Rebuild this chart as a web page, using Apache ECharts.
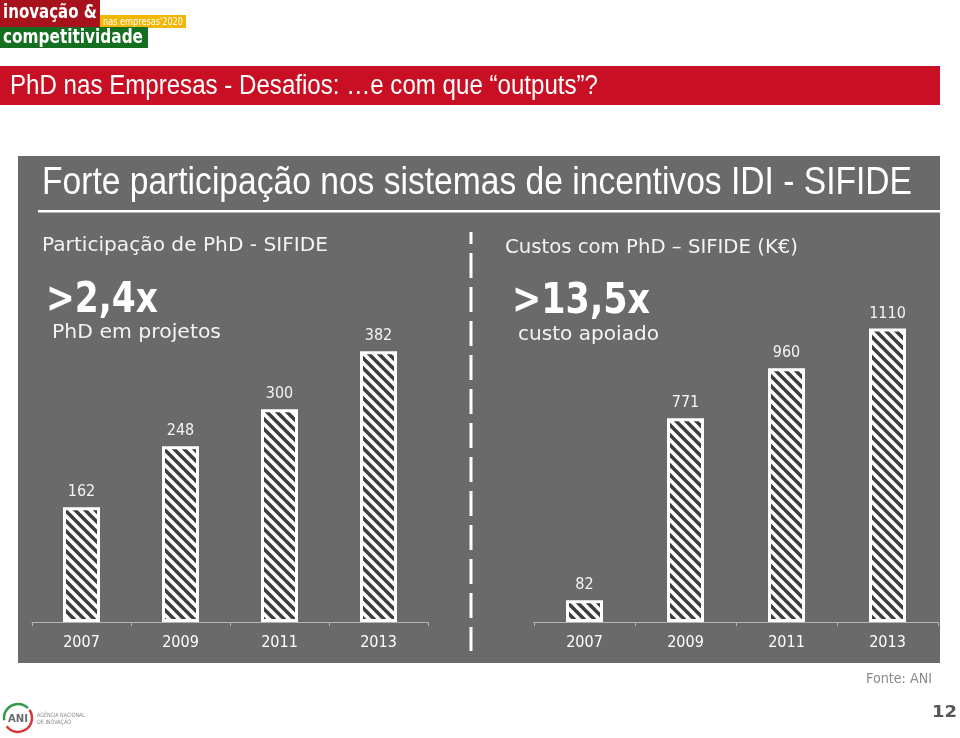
<!DOCTYPE html>
<html><head><meta charset="utf-8">
<script src="https://cdn.jsdelivr.net/npm/echarts@6/dist/echarts.min.js"></script>
<style>html,body{margin:0;padding:0;background:#fff}#c{width:960px;height:738px}</style>
</head><body><div id="c"></div>
<script>
// ---- data ----
const years = ['2007', '2009', '2011', '2013'];
const phdParticipation = [162, 248, 300, 382];
const phdCostsK = [82, 771, 960, 1110];

// ---- font helpers ----
const mctx = document.createElement('canvas').getContext('2d');
function hasFont(f) {
  const s = 'abcdefghijklmnopqrstuvwxyz0123456789';
  for (const base of ['monospace', 'serif']) {
    mctx.font = '40px ' + base; const w0 = mctx.measureText(s).width;
    mctx.font = "40px '" + f + "'," + base; const w1 = mctx.measureText(s).width;
    if (w0 !== w1) return true;
  }
  return false;
}
function pickFont(list) { for (const f of list) if (hasFont(f)) return f; return 'sans-serif'; }
const narrowFont = pickFont(['Liberation Sans Narrow', 'DejaVu Sans Condensed', 'Liberation Sans']);
const narrowAvail = narrowFont === 'Liberation Sans Narrow';
const condAvail = narrowFont === 'DejaVu Sans Condensed';
const numSize = narrowAvail ? 18 : (condAvail ? 16 : 16);

function measure(text, size, family, weight) {
  mctx.font = (weight || 'normal') + ' ' + size + "px '" + family + "'";
  return mctx.measureText(text).width;
}
function fitText(text, x, y, width, size, family, opts) {
  opts = opts || {};
  const w = measure(text, size, family, opts.weight);
  return {
    type: 'text', x: x, y: y, scaleX: width / w, scaleY: 1, z: 10,
    style: {
      text: text, fill: opts.color || '#fff', fontSize: size, fontFamily: family,
      fontWeight: opts.weight || 'normal', align: 'left', verticalAlign: 'middle'
    }
  };
}

// ---- stripe pattern ----
function makePattern() {
  const P = 10;
  const c = document.createElement('canvas'); c.width = P; c.height = P;
  const g = c.getContext('2d');
  g.fillStyle = '#3d3d3d'; g.fillRect(0, 0, P, P);
  g.strokeStyle = '#ffffff'; g.lineWidth = 3.6; g.lineCap = 'square';
  for (const o of [-2 * P, -P, 0, P, 2 * P]) {
    g.beginPath(); g.moveTo(o - P, -P); g.lineTo(o + 2 * P, 2 * P); g.stroke();
  }
  return c;
}
const pattern = { image: makePattern(), repeat: 'repeat' };

const chart = echarts.init(document.getElementById('c'), null, { renderer: 'canvas' });

function xAxisCfg(gi) {
  return {
    type: 'category', gridIndex: gi, data: years,
    axisLine: { lineStyle: { color: '#b4b4b4', width: 1 } },
    axisTick: { show: true, length: 4, lineStyle: { color: '#b4b4b4' } },
    axisLabel: { color: '#ffffff', fontSize: numSize, fontFamily: narrowFont, margin: 13 }
  };
}
function barSeries(gi, data) {
  return {
    type: 'bar', xAxisIndex: gi, yAxisIndex: gi, data: data, barWidth: 37,
    itemStyle: { color: pattern, borderColor: '#ffffff', borderWidth: 3 },
    label: { show: true, position: 'top', distance: 7, color: '#f4f4f4', fontSize: numSize, fontFamily: narrowFont },
    emphasis: { disabled: true }, animation: false
  };
}

const humanist = 'DejaVu Sans';
const arialLike = 'Liberation Sans';

const option = {
  backgroundColor: '#ffffff',
  animation: false,
  grid: [
    { left: 32, right: 532, top: 310, bottom: 116 },
    { left: 534, right: 22, top: 310, bottom: 116 }
  ],
  xAxis: [xAxisCfg(0), xAxisCfg(1)],
  yAxis: [
    { type: 'value', gridIndex: 0, min: 0, max: 440, show: false, splitLine: { show: false } },
    { type: 'value', gridIndex: 1, min: 0, max: 1180, show: false, splitLine: { show: false } }
  ],
  series: [barSeries(0, phdParticipation), barSeries(1, phdCostsK)],
  graphic: [
    // panel background
    { type: 'rect', shape: { x: 18, y: 156, width: 922, height: 507 }, style: { fill: '#6a6a6a' }, z: -10 },
    // header logo
    { type: 'rect', shape: { x: 0, y: 0, width: 100, height: 27 }, style: { fill: '#a8121c' }, z: 1 },
    { type: 'rect', shape: { x: 100, y: 15, width: 86, height: 13 }, style: { fill: '#f2b705' }, z: 1 },
    { type: 'rect', shape: { x: 0, y: 27, width: 148, height: 21 }, style: { fill: '#156f20' }, z: 1 },
    fitText('inovação &', 3, 13, 94, 20, humanist, { weight: 'bold' }),
    fitText("nas empresas'2020", 103, 22, 80, 10, humanist),
    fitText('competitividade', 3, 38, 140, 20, humanist, { weight: 'bold' }),
    // red title bar
    { type: 'rect', shape: { x: 0, y: 66, width: 940, height: 39 }, style: { fill: '#c80f24' }, z: 1 },
    fitText('PhD nas Empresas - Desafios: \u2026e com que \u201coutputs\u201d?', 10, 87, 588, 27, arialLike),
    // panel title and rule
    fitText('Forte participação nos sistemas de incentivos IDI - SIFIDE', 42, 184, 870, 38, arialLike),
    { type: 'rect', shape: { x: 38, y: 210, width: 902, height: 2.5 }, style: { fill: '#ffffff' }, z: 2 },
    // left chart headings
    fitText('Participação de PhD - SIFIDE', 42, 246, 286, 20, humanist, { color: '#f4f4f4' }),
    fitText('>2,4x', 46, 301, 112, 42, humanist, { weight: 'bold' }),
    fitText('PhD em projetos', 52, 333, 169, 20, humanist, { color: '#f4f4f4' }),
    // right chart headings
    fitText('Custos com PhD \u2013 SIFIDE (K\u20ac)', 505, 248, 293, 20, humanist, { color: '#f4f4f4' }),
    fitText('>13,5x', 512, 302, 138, 42, humanist, { weight: 'bold' }),
    fitText('custo apoiado', 518, 335, 141, 20, humanist, { color: '#f4f4f4' }),
    // dashed divider
    { type: 'line', shape: { x1: 471, y1: 232, x2: 471, y2: 651 },
      style: { stroke: '#ffffff', lineWidth: 3, lineDash: [25, 9], lineDashOffset: 13 }, z: 2 },
    // footer
    fitText('Fonte: ANI', 866, 679, 66, 14, humanist, { color: '#8a8a8a' }),
    fitText('12', 932, 713, 25, 16, humanist, { color: '#555555', weight: 'bold' }),
    // ANI logo
    { type: 'arc', shape: { cx: 18, cy: 718, r: 14, startAngle: Math.PI * 0.95, endAngle: Math.PI * 1.75 },
      style: { stroke: '#2e9a4a', lineWidth: 2.5, fill: null }, z: 2 },
    { type: 'arc', shape: { cx: 18, cy: 718, r: 14, startAngle: -Math.PI * 0.2, endAngle: Math.PI * 0.8 },
      style: { stroke: '#d23a3a', lineWidth: 2.5, fill: null }, z: 2 },
    fitText('ANI', 8, 719, 20, 11, humanist, { color: '#6a6a6a', weight: 'bold' }),
    fitText('AGÊNCIA NACIONAL', 37, 715, 48, 6, humanist, { color: '#8a8a8a' }),
    fitText('DE INOVAÇÃO', 37, 722, 34, 6, humanist, { color: '#8a8a8a' })
  ]
};
chart.setOption(option);
</script>
</body></html>
